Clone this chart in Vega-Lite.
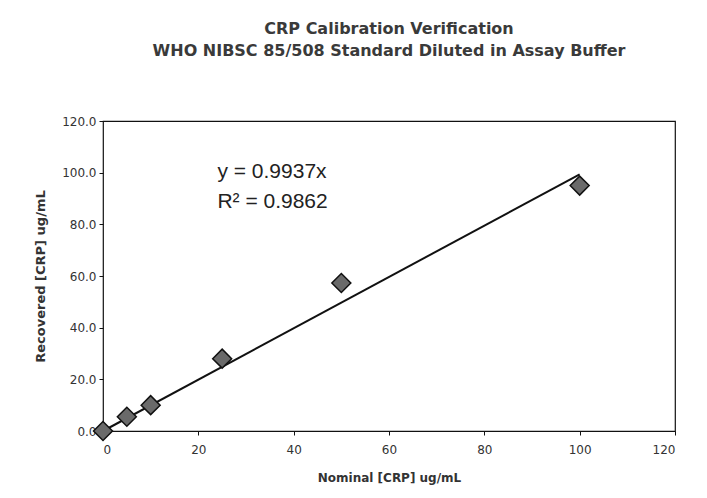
{
  "$schema": "https://vega.github.io/schema/vega-lite/v6.json",
  "width": 572,
  "height": 310,
  "autosize": {"type": "none"},
  "padding": {"left": 103, "top": 121, "right": 32, "bottom": 67},
  "background": "white",
  "config": {
    "font": "DejaVu Sans",
    "view": {"stroke": "#111", "strokeWidth": 1.2},
    "axis": {"grid": false, "domain": false, "labelFont": "DejaVu Sans", "labelFontSize": 12, "labelColor": "#333", "titleFont": "DejaVu Sans", "titleFontSize": 12, "titleFontWeight": "bold", "titleColor": "#333", "tickColor": "#111", "tickSize": 4}
  },
  "title": {
    "text": ["CRP Calibration Verification", "WHO NIBSC 85/508 Standard Diluted in Assay Buffer"],
    "font": "DejaVu Sans",
    "fontSize": 16,
    "fontWeight": "bold",
    "color": "#3a3a3a",
    "lineHeight": 22,
    "anchor": "middle",
    "offset": 56
  },
  "datasets": {
    "points": [
      {"nominal": 0, "recovered": 0},
      {"nominal": 5, "recovered": 5.5},
      {"nominal": 10, "recovered": 10},
      {"nominal": 25, "recovered": 28},
      {"nominal": 50, "recovered": 57.3},
      {"nominal": 100, "recovered": 95}
    ],
    "trend": [
      {"nominal": 0, "recovered": 0},
      {"nominal": 100, "recovered": 99.37}
    ],
    "labels": [
      {"nominal": 24, "recovered": 100.3, "label": "y = 0.9937x"},
      {"nominal": 24, "recovered": 88.6, "label": "R² = 0.9862"}
    ]
  },
  "layer": [
    {
      "data": {"name": "trend"},
      "mark": {"type": "line", "color": "#111", "strokeWidth": 2},
      "encoding": {
        "x": {"field": "nominal", "type": "quantitative", "scale": {"domain": [0, 120]}, "axis": {"values": [0, 20, 40, 60, 80, 100, 120], "title": "Nominal [CRP] ug/mL", "titlePadding": 17, "labelPadding": 9}},
        "y": {"field": "recovered", "type": "quantitative", "scale": {"domain": [0, 120]}, "axis": {"values": [0, 20, 40, 60, 80, 100, 120], "format": ".1f", "title": "Recovered [CRP] ug/mL", "titlePadding": 14, "labelPadding": 3, "titleFontSize": 13}}
      }
    },
    {
      "data": {"name": "points"},
      "mark": {"type": "point", "shape": "diamond", "filled": true, "size": 360, "color": "#6a6a6a", "stroke": "#111", "strokeWidth": 1.5, "opacity": 1},
      "encoding": {
        "x": {"field": "nominal", "type": "quantitative"},
        "y": {"field": "recovered", "type": "quantitative"}
      }
    },
    {
      "data": {"name": "labels"},
      "mark": {"type": "text", "align": "left", "baseline": "middle", "font": "Liberation Sans", "fontSize": 21, "color": "#222"},
      "encoding": {
        "x": {"field": "nominal", "type": "quantitative"},
        "y": {"field": "recovered", "type": "quantitative"},
        "text": {"field": "label"}
      }
    }
  ]
}
